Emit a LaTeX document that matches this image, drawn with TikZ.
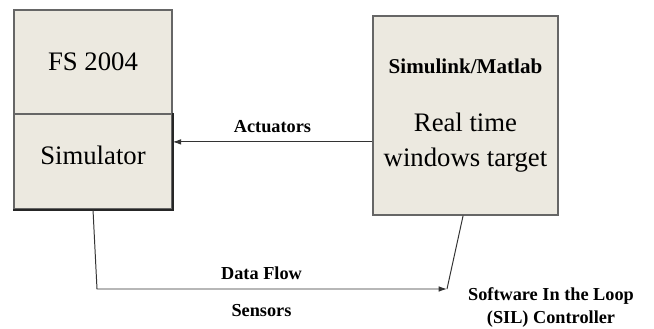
\documentclass[tikz,border=0pt]{standalone}
\usepackage{fontspec}
\setmainfont{Liberation Serif}
\usetikzlibrary{arrows.meta}
\definecolor{boxfill}{RGB}{236,233,224}
\begin{document}
\begin{tikzpicture}[x=0.025cm,y=-0.025cm,
  block/.style={draw=black!60, line width=0.9pt, fill=boxfill, inner sep=0pt},
  bigtext/.style={font=\fontsize{19}{25}\selectfont},
  lbl/.style={font=\fontsize{13}{17}\selectfont\bfseries},
  flow/.style={draw=black!80, line width=0.7pt}]
\useasboundingbox (0,0) rectangle (654,329);

% Simulator block (two parts)
\node[block, bigtext, minimum width=3.95cm, minimum height=2.6cm] (fs) at (93,62) {FS 2004};
\node[block, bigtext, minimum width=3.95cm, minimum height=2.375cm, text height=14pt, text depth=10pt] (sim) at (93,161.5) {Simulator};
\draw[black!85, line width=1.4pt] (sim.north east) -- (sim.south east) -- (sim.south west);

% Controller block
\node[block, bigtext, minimum width=4.625cm, minimum height=4.975cm, align=center] (ctrl) at (465.5,115.5)
  {{\fontsize{15}{18}\selectfont\bfseries Simulink/Matlab}\\[16pt]Real time\\windows target};

% Actuators
\coordinate (act) at ([yshift=-0.66cm]ctrl.west);
\draw[flow, -{Latex[length=6pt,width=4pt]}] (act) -- (act -| sim.east)
  node[lbl, midway, above=3pt] {Actuators};

% Sensors / data flow
\coordinate (turn) at (97,289);
\coordinate (snk) at (447,289);
\draw[flow, -{Latex[length=6pt,width=4pt]}] (sim.south) -- (turn) -- (snk)
  node[lbl, pos=0.47, above=3pt] {Data Flow}
  node[lbl, pos=0.47, below=7pt] {Sensors};
\draw[flow] ([xshift=-0.06cm]ctrl.south) -- (snk);

\node[lbl, align=center] (sil) at (551,307.5) {Software In the Loop\\(SIL) Controller};
\end{tikzpicture}
\end{document}
